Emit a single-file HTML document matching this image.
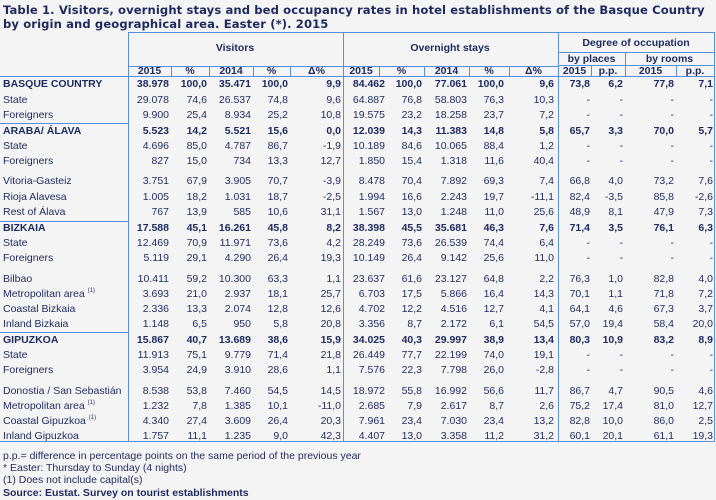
<!DOCTYPE html>
<html><head><meta charset="utf-8">
<style>
body{margin:0;width:716px;height:500px;background:#f4f4f4;font-family:"Liberation Sans",Arial,sans-serif;color:#1e2a5e;position:relative;overflow:hidden}
.t{position:absolute;white-space:nowrap;font-size:10.5px;line-height:12px}
.b{font-weight:bold}
.r{text-align:right}
.c{text-align:center}
.h{position:absolute;height:1px;background:#5b8edb}
.v{position:absolute;width:1px;background:#5b8edb}
.title{position:absolute;left:3px;font:bold 11.6px "DejaVu Sans",Verdana,sans-serif;color:#1e2a5e;white-space:nowrap;letter-spacing:0.1px}
sup{font-size:6px;vertical-align:baseline;position:relative;top:-5px;line-height:0}
</style></head><body>
<div class="title" style="top:3px">Table 1. Visitors, overnight stays and bed occupancy rates in hotel establishments of the Basque Country</div>
<div class="title" style="top:17px">by origin and geographical area. Easter (*). 2015</div>
<div id="g"></div>
<script>
var g=document.getElementById('g'),H='';
function h(x,y,w){H+='<div class="h" style="left:'+x+'px;top:'+y+'px;width:'+w+'px"></div>';}
function v(x,y,hh){H+='<div class="v" style="left:'+x+'px;top:'+y+'px;height:'+hh+'px"></div>';}
function t(txt,x,y,cls,w){H+='<div class="t '+(cls||'')+'" style="'+(w!==undefined?'left:'+(x-w)+'px;width:'+w+'px;':'left:'+x+'px;')+'top:'+(y-6)+'px">'+txt+'</div>';}
h(128,32,587);v(128,32,410);v(343,32,410);v(558,32,410);v(714,32,410);
h(0,441,715);h(128,66,430);h(0,76,715);h(558,52,157);h(558,65,157);
[171,209,253,290,379,424,469,509].forEach(function(x){v(x,66,10)});
[591,625,676].forEach(function(x){v(x,65,11)});v(625,52,13);
h(0,123,128);h(0,221,128);h(0,332,128);
H+='<div class="t b c" style="left:195px;width:80px;top:42px">Visitors</div>';
H+='<div class="t b c" style="left:400px;width:100px;top:42px">Overnight stays</div>';
H+='<div class="t b c" style="left:558px;width:156px;top:37px">Degree of occupation</div>';
H+='<div class="t b c" style="left:558px;width:67px;top:53px">by places</div>';
H+='<div class="t b c" style="left:625px;width:89px;top:53px">by rooms</div>';
var hd=[[128,171,'2015'],[171,209,'%'],[209,253,'2014'],[253,290,'%'],[290,343,'Δ%'],[343,379,'2015'],[379,424,'%'],[424,469,'2014'],[469,509,'%'],[509,558,'Δ%'],[558,591,'2015'],[591,625,'p.p.'],[625,676,'2015'],[676,714,'p.p.']];
hd.forEach(function(c){H+='<div class="t b c" style="left:'+c[0]+'px;width:'+(c[1]-c[0])+'px;top:65px">'+c[2]+'</div>'});
var R=[169,207,251,288,341,385,422,467,504,554,590,623,674,713];
var rows=[
[84,1,'BASQUE COUNTRY','38.978 100,0 35.471 100,0 9,9 84.462 100,0 77.061 100,0 9,6 73,8 6,2 77,8 7,1'],
[100,0,'State','29.078 74,6 26.537 74,8 9,6 64.887 76,8 58.803 76,3 10,3 - - - -'],
[115,0,'Foreigners','9.900 25,4 8.934 25,2 10,8 19.575 23,2 18.258 23,7 7,2 - - - -'],
[131,1,'ARABA/ ÁLAVA','5.523 14,2 5.521 15,6 0,0 12.039 14,3 11.383 14,8 5,8 65,7 3,3 70,0 5,7'],
[146,0,'State','4.696 85,0 4.787 86,7 -1,9 10.189 84,6 10.065 88,4 1,2 - - - -'],
[161,0,'Foreigners','827 15,0 734 13,3 12,7 1.850 15,4 1.318 11,6 40,4 - - - -'],
[181,0,'Vitoria-Gasteiz','3.751 67,9 3.905 70,7 -3,9 8.478 70,4 7.892 69,3 7,4 66,8 4,0 73,2 7,6'],
[197,0,'Rioja Alavesa','1.005 18,2 1.031 18,7 -2,5 1.994 16,6 2.243 19,7 -11,1 82,4 -3,5 85,8 -2,6'],
[212,0,'Rest of Álava','767 13,9 585 10,6 31,1 1.567 13,0 1.248 11,0 25,6 48,9 8,1 47,9 7,3'],
[228,1,'BIZKAIA','17.588 45,1 16.261 45,8 8,2 38.398 45,5 35.681 46,3 7,6 71,4 3,5 76,1 6,3'],
[243,0,'State','12.469 70,9 11.971 73,6 4,2 28.249 73,6 26.539 74,4 6,4 - - - -'],
[258,0,'Foreigners','5.119 29,1 4.290 26,4 19,3 10.149 26,4 9.142 25,6 11,0 - - - -'],
[279,0,'Bilbao','10.411 59,2 10.300 63,3 1,1 23.637 61,6 23.127 64,8 2,2 76,3 1,0 82,8 4,0'],
[294,0,'Metropolitan area <sup>(1)</sup>','3.693 21,0 2.937 18,1 25,7 6.703 17,5 5.866 16,4 14,3 70,1 1,1 71,8 7,2'],
[309,0,'Coastal Bizkaia','2.336 13,3 2.074 12,8 12,6 4.702 12,2 4.516 12,7 4,1 64,1 4,6 67,3 3,7'],
[324,0,'Inland Bizkaia','1.148 6,5 950 5,8 20,8 3.356 8,7 2.172 6,1 54,5 57,0 19,4 58,4 20,0'],
[340,1,'GIPUZKOA','15.867 40,7 13.689 38,6 15,9 34.025 40,3 29.997 38,9 13,4 80,3 10,9 83,2 8,9'],
[355,0,'State','11.913 75,1 9.779 71,4 21,8 26.449 77,7 22.199 74,0 19,1 - - - -'],
[370,0,'Foreigners','3.954 24,9 3.910 28,6 1,1 7.576 22,3 7.798 26,0 -2,8 - - - -'],
[391,0,'Donostia / San Sebastián','8.538 53,8 7.460 54,5 14,5 18.972 55,8 16.992 56,6 11,7 86,7 4,7 90,5 4,6'],
[406,0,'Metropolitan area <sup>(1)</sup>','1.232 7,8 1.385 10,1 -11,0 2.685 7,9 2.617 8,7 2,6 75,2 17,4 81,0 12,7'],
[421,0,'Coastal Gipuzkoa <sup>(1)</sup>','4.340 27,4 3.609 26,4 20,3 7.961 23,4 7.030 23,4 13,2 82,8 10,0 86,0 2,5'],
[436,0,'Inland Gipuzkoa','1.757 11,1 1.235 9,0 42,3 4.407 13,0 3.358 11,2 31,2 60,1 20,1 61,1 19,3']];
rows.forEach(function(r){var c=r[1]?'b':'';t(r[2],3,r[0],c);
r[3].split(' ').forEach(function(s,i){t(s,R[i],r[0],c+' r',70)});});
t('p.p.= difference in percentage points on the same period of the previous year',3,456);
t('* Easter: Thursday to Sunday (4 nights)',3,468);
t('(1) Does not include capital(s)',3,480);
t('Source: Eustat. Survey on tourist establishments',3,493,'b');
g.innerHTML=H;
</script>
</body></html>
